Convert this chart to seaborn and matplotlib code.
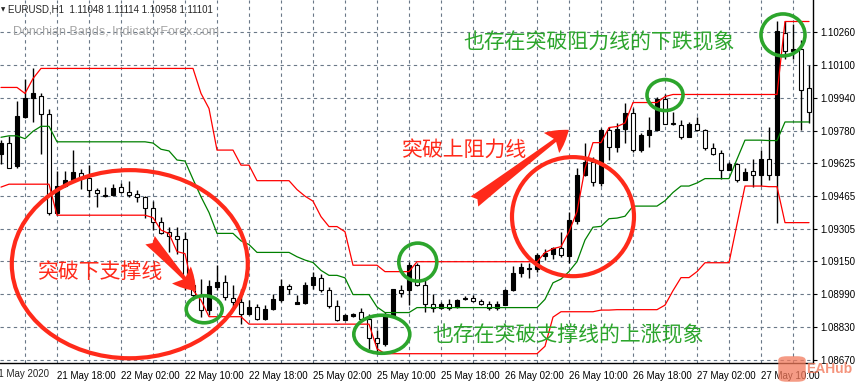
import numpy as np
import pandas as pd
import seaborn as sns
import matplotlib.pyplot as plt
from matplotlib.patches import Ellipse, FancyArrowPatch, FancyBboxPatch

sns.set_style('white')
plt.rcParams['font.family'] = ['Liberation Sans', 'DejaVu Sans']

# H1 bars, bar 0 = 21 May 18:00
bars = list(range(-7, 95))

open_ = [1.09670, 1.09719, 1.09610, 1.09849, 1.09941, 1.09951, 1.09861,
         1.09385, 1.09515, 1.09544, 1.09578, 1.09554, 1.09493, 1.09472, 1.09472, 1.09508, 1.09486,
         1.09474, 1.09462, 1.09409, 1.09341, 1.09290, 1.09271, 1.09259, 1.09034, 1.08985, 1.08915,
         1.09026, 1.09048, 1.08973, 1.08954, 1.08896, 1.08927, 1.08871, 1.08920, 1.08963, 1.09031,
         1.08944, 1.08949, 1.09036, 1.09070, 1.09012, 1.08934, 1.08867, 1.08886, 1.08903, 1.08871,
         1.08779, 1.08748, 1.08884, 1.09012, 1.09009, 1.09133, 1.09036, 1.08944, 1.08925, 1.08944,
         1.08929, 1.08968, 1.08973, 1.08959, 1.08944, 1.08922, 1.08939, 1.09009, 1.09094, 1.09113,
         1.09113, 1.09176, 1.09186, 1.09215, 1.09176, 1.09343, 1.09568, 1.09631, 1.09530, 1.09786,
         1.09701, 1.09791, 1.09868, 1.09687, 1.09762, 1.09784, 1.09936, 1.09820, 1.09810, 1.09752,
         1.09815, 1.09784, 1.09699, 1.09675, 1.09593, 1.09619, 1.09544, 1.09585, 1.09566, 1.09646,
         1.09566, 1.10251, 1.10164, 1.10178, 1.09985]
high = [1.09735, 1.09755, 1.09924, 1.10033, 1.10082, 1.09961, 1.09888,
        1.09588, 1.09588, 1.09687, 1.09595, 1.09614, 1.09503, 1.09510, 1.09525, 1.09530, 1.09539,
        1.09496, 1.09464, 1.09440, 1.09365, 1.09317, 1.09317, 1.09292, 1.09065, 1.09065, 1.09058,
        1.09130, 1.09082, 1.09036, 1.09017, 1.08961, 1.08944, 1.08937, 1.08992, 1.09065, 1.09041,
        1.08985, 1.09051, 1.09099, 1.09089, 1.09026, 1.08961, 1.08896, 1.08901, 1.08925, 1.08896,
        1.08816, 1.08905, 1.09017, 1.09034, 1.09147, 1.09142, 1.09058, 1.08992, 1.08954, 1.08968,
        1.08968, 1.08980, 1.08985, 1.08966, 1.08959, 1.08956, 1.09017, 1.09126, 1.09142, 1.09142,
        1.09191, 1.09210, 1.09220, 1.09292, 1.09389, 1.09598, 1.09723, 1.09655, 1.09796, 1.09801,
        1.09818, 1.09917, 1.09890, 1.09769, 1.09849, 1.09946, 1.09956, 1.09873, 1.09832, 1.09822,
        1.09849, 1.09791, 1.09719, 1.09687, 1.09629, 1.09626, 1.09598, 1.09646, 1.09687, 1.09801,
        1.10309, 1.10309, 1.10297, 1.10219, 1.10098]
low = [1.09622, 1.09598, 1.09602, 1.09840, 1.09825, 1.09670, 1.09372,
       1.09372, 1.09510, 1.09542, 1.09501, 1.09462, 1.09414, 1.09462, 1.09467, 1.09481, 1.09462,
       1.09438, 1.09360, 1.09300, 1.09283, 1.09196, 1.09186, 1.09009, 1.08961, 1.08881, 1.08888,
       1.09009, 1.08961, 1.08913, 1.08845, 1.08888, 1.08864, 1.08864, 1.08913, 1.08954, 1.08992,
       1.08942, 1.08944, 1.09017, 1.09002, 1.08925, 1.08862, 1.08864, 1.08881, 1.08864, 1.08726,
       1.08702, 1.08738, 1.08879, 1.08978, 1.08937, 1.09029, 1.08905, 1.08905, 1.08920, 1.08913,
       1.08925, 1.08961, 1.08954, 1.08937, 1.08915, 1.08915, 1.08937, 1.09007, 1.09075, 1.09070,
       1.09099, 1.09155, 1.09162, 1.09171, 1.09142, 1.09329, 1.09564, 1.09513, 1.09513, 1.09639,
       1.09680, 1.09719, 1.09680, 1.09680, 1.09704, 1.09779, 1.09813, 1.09808, 1.09743, 1.09750,
       1.09781, 1.09687, 1.09663, 1.09549, 1.09590, 1.09535, 1.09542, 1.09510, 1.09515, 1.09542,
       1.09336, 1.10130, 1.10130, 1.09784, 1.09818]
close = [1.09719, 1.09602, 1.09852, 1.09941, 1.09961, 1.09861, 1.09385,
         1.09515, 1.09544, 1.09580, 1.09554, 1.09493, 1.09481, 1.09467, 1.09503, 1.09486, 1.09472,
         1.09462, 1.09409, 1.09341, 1.09288, 1.09271, 1.09259, 1.09034, 1.08985, 1.08915, 1.09029,
         1.09048, 1.08978, 1.08954, 1.08896, 1.08927, 1.08871, 1.08920, 1.08968, 1.09031, 1.09017,
         1.08954, 1.09034, 1.09075, 1.09012, 1.08934, 1.08867, 1.08888, 1.08896, 1.08871, 1.08779,
         1.08753, 1.08886, 1.09014, 1.08997, 1.09133, 1.09036, 1.08944, 1.08925, 1.08944, 1.08925,
         1.08963, 1.08973, 1.08956, 1.08944, 1.08922, 1.08944, 1.09009, 1.09094, 1.09123, 1.09118,
         1.09179, 1.09191, 1.09215, 1.09181, 1.09351, 1.09568, 1.09631, 1.09534, 1.09784, 1.09704,
         1.09791, 1.09868, 1.09689, 1.09762, 1.09786, 1.09936, 1.09815, 1.09815, 1.09752, 1.09815,
         1.09784, 1.09699, 1.09668, 1.09593, 1.09619, 1.09544, 1.09583, 1.09568, 1.09646, 1.09566,
         1.10261, 1.10164, 1.10178, 1.09980, 1.09873]

# Donchian bands as drawn on the chart
upper = [1.09990, 1.09990, 1.09990, 1.09961, 1.10033, 1.10082, 1.10082,
         1.10082, 1.10082, 1.10082, 1.10082, 1.10082, 1.10082, 1.10082, 1.10082, 1.10082, 1.10082,
         1.10082, 1.10082, 1.10082, 1.10082, 1.10082, 1.10082, 1.10082, 1.10082, 1.09961, 1.09888,
         1.09687, 1.09687, 1.09687, 1.09614, 1.09614, 1.09539, 1.09539, 1.09539, 1.09539, 1.09539,
         1.09496, 1.09464, 1.09440, 1.09365, 1.09317, 1.09317, 1.09292, 1.09130, 1.09130, 1.09130,
         1.09130, 1.09099, 1.09099, 1.09099, 1.09099, 1.09147, 1.09147, 1.09147, 1.09147, 1.09147,
         1.09147, 1.09147, 1.09147, 1.09147, 1.09147, 1.09147, 1.09147, 1.09147, 1.09147, 1.09147,
         1.09147, 1.09191, 1.09210, 1.09220, 1.09292, 1.09389, 1.09598, 1.09723, 1.09723, 1.09796,
         1.09801, 1.09818, 1.09917, 1.09917, 1.09917, 1.09917, 1.09946, 1.09956, 1.09956, 1.09956,
         1.09956, 1.09956, 1.09956, 1.09956, 1.09956, 1.09956, 1.09956, 1.09956, 1.09956, 1.09956,
         1.09956, 1.10309, 1.10309, 1.10309, 1.10309]
lower = [1.09508, 1.09522, 1.09522, 1.09522, 1.09522, 1.09522, 1.09522,
         1.09372, 1.09372, 1.09372, 1.09372, 1.09372, 1.09372, 1.09372, 1.09372, 1.09372, 1.09372,
         1.09372, 1.09372, 1.09360, 1.09300, 1.09283, 1.09196, 1.09186, 1.09009, 1.08961, 1.08881,
         1.08881, 1.08881, 1.08881, 1.08881, 1.08845, 1.08845, 1.08845, 1.08845, 1.08845, 1.08845,
         1.08845, 1.08845, 1.08845, 1.08845, 1.08845, 1.08845, 1.08845, 1.08845, 1.08845, 1.08845,
         1.08726, 1.08702, 1.08702, 1.08702, 1.08702, 1.08702, 1.08702, 1.08702, 1.08702, 1.08702,
         1.08702, 1.08702, 1.08702, 1.08702, 1.08702, 1.08702, 1.08702, 1.08702, 1.08702, 1.08702,
         1.08702, 1.08738, 1.08879, 1.08905, 1.08905, 1.08905, 1.08905, 1.08905, 1.08913, 1.08913,
         1.08915, 1.08915, 1.08915, 1.08915, 1.08915, 1.08915, 1.08937, 1.09007, 1.09070, 1.09070,
         1.09099, 1.09142, 1.09142, 1.09142, 1.09142, 1.09329, 1.09513, 1.09513, 1.09513, 1.09510,
         1.09510, 1.09336, 1.09336, 1.09336, 1.09336]
middle = [1.09749, 1.09756, 1.09756, 1.09742, 1.09778, 1.09802, 1.09802,
          1.09727, 1.09727, 1.09727, 1.09727, 1.09727, 1.09727, 1.09727, 1.09727, 1.09727, 1.09727,
          1.09727, 1.09727, 1.09721, 1.09691, 1.09683, 1.09639, 1.09634, 1.09546, 1.09461, 1.09385,
          1.09284, 1.09284, 1.09284, 1.09248, 1.09230, 1.09192, 1.09192, 1.09192, 1.09192, 1.09192,
          1.09171, 1.09155, 1.09143, 1.09105, 1.09081, 1.09081, 1.09069, 1.08988, 1.08988, 1.08988,
          1.08928, 1.08901, 1.08901, 1.08901, 1.08901, 1.08925, 1.08925, 1.08925, 1.08925, 1.08925,
          1.08925, 1.08925, 1.08925, 1.08925, 1.08925, 1.08925, 1.08925, 1.08925, 1.08925, 1.08925,
          1.08925, 1.08965, 1.09045, 1.09063, 1.09099, 1.09147, 1.09252, 1.09314, 1.09318, 1.09355,
          1.09358, 1.09367, 1.09416, 1.09416, 1.09416, 1.09416, 1.09442, 1.09482, 1.09513, 1.09513,
          1.09528, 1.09549, 1.09549, 1.09549, 1.09549, 1.09643, 1.09735, 1.09735, 1.09735, 1.09733,
          1.09733, 1.09823, 1.09823, 1.09823, 1.09823]

tick_bars = [0, 8, 16, 24, 32, 40, 48, 56, 64, 72, 80, 88]
tick_labels = ['21 May 18:00', '22 May 02:00', '22 May 10:00', '22 May 18:00', '25 May 02:00',
               '25 May 10:00', '25 May 18:00', '26 May 02:00', '26 May 10:00', '26 May 18:00',
               '27 May 02:00', '27 May 10:00']
price_ticks = [1.08670, 1.08830, 1.08990, 1.09150, 1.09305, 1.09465, 1.09625,
               1.09780, 1.09940, 1.10100, 1.10260]

df = pd.DataFrame({'bar': bars, 'open': open_, 'high': high, 'low': low, 'close': close,
                   'upper': upper, 'lower': lower, 'middle': middle})

W, H = 858, 383
fig = plt.figure(figsize=(W / 100, H / 100), dpi=100)
ax = fig.add_axes([0, 20 / H, 813 / W, 363 / H])

# candles: black = up bar, white = down bar
bull = df['close'] >= df['open']
ax.vlines(df['bar'], df['low'], df['high'], color='black', lw=1, zorder=3)
body_lo = np.minimum(df['open'], df['close'])
body_h = np.maximum((df['close'] - df['open']).abs(), 0.00003)
ax.bar(df['bar'], body_h, bottom=body_lo, width=0.62,
       color=np.where(bull, 'black', 'white'), edgecolor='black', lw=0.8, zorder=4)

for col, c in [('upper', '#ff0000'), ('lower', '#ff0000'), ('middle', '#008000')]:
    sns.lineplot(data=df, x='bar', y=col, color=c, lw=0.9, ax=ax, zorder=5,
                 estimator=None, legend=False)

ax.set_xlim(-7.125, 94.5)
ax.set_ylim(1.08657, 1.10413)
ax.set_xlabel('')
ax.set_ylabel('')

ax.set_xticks(tick_bars)
ax.set_xticklabels(tick_labels, ha='left')
ax.set_xticks(np.arange(-4, 95, 4), minor=True)
ax.set_yticks(price_ticks)
ax.set_yticklabels([f'{p:.5f}' for p in price_ticks])
ax.yaxis.tick_right()

grid_kw = dict(color='#6a7888', lw=0.8, ls=(0, (3, 3)))
ax.grid(axis='x', which='both', **grid_kw)
ax.grid(axis='y', which='major', **grid_kw)
ax.tick_params(axis='x', which='major', length=4, width=0.8, pad=1.5, labelsize=7, colors='black')
ax.tick_params(axis='x', which='minor', length=0)
ax.tick_params(axis='y', length=3, width=0.8, pad=2, labelsize=7, colors='black')
for s in ['left', 'top']:
    ax.spines[s].set_visible(False)
for s in ['bottom', 'right']:
    ax.spines[s].set_color('black')
    ax.spines[s].set_linewidth(1)

ax.text(-8, -6 / 363, '21 May 2020', transform=ax.get_xaxis_transform(),
        ha='left', va='top', fontsize=7, clip_on=False)

# header + indicator caption
ax.text(1 / W, 1 - 10 / H, '\u25bc', transform=fig.transFigure, fontsize=4,
        va='center', family='DejaVu Sans', zorder=6)
ax.text(8 / W, 1 - 10 / H, 'EURUSD,H1  1.11048 1.11114 1.10958 1.11101',
        transform=fig.transFigure, fontsize=7, va='center', zorder=6)
ax.text(13 / W, 1 - 32 / H, 'Donchian Bands, IndicatorForex.com',
        transform=fig.transFigure, fontsize=9, color='#a5a5a5', va='center', zorder=1)

# annotations
red = '#ff2a1a'
green = '#2ca52c'
cjk = ['Noto Sans CJK SC', 'DejaVu Sans']
for (cx, cy, w, h, c, lw) in [(9.1, 1.09135, 29.5, 0.0091, red, 3.0),
                              (64.5, 1.09365, 15.25, 0.00576, red, 3.0),
                              (18.4, 1.08917, 4.5, 0.00131, green, 2.6),
                              (45.1, 1.09145, 4.75, 0.00184, green, 2.6),
                              (40.6, 1.08796, 7.0, 0.00184, green, 2.6),
                              (76.0, 1.09953, 4.5, 0.0015, green, 2.6),
                              (90.75, 1.10244, 5.5, 0.00203, green, 2.6)]:
    ax.add_patch(Ellipse((cx, cy), w, h, fill=False, ec=c, lw=lw, zorder=10))

for a, b in [((11.4, 1.09261), (17.6, 1.08995)), ((51.9, 1.09430), (64.25, 1.09793))]:
    ax.add_patch(FancyArrowPatch(a, b, arrowstyle='fancy,head_length=0.6,head_width=0.7,tail_width=0.35',
                                 mutation_scale=26, color=red, lw=0, zorder=10))

ax.text(-2.4, 1.09097, '突破下支撑线', color=red, fontsize=15, family=cjk, va='center', zorder=11)
ax.text(43.1, 1.09687, '突破上阻力线', color=red, fontsize=15, family=cjk, va='center', zorder=11)
ax.text(50.75, 1.10210, '也存在突破阻力线的下跌现象', color=green, fontsize=15, family=cjk,
        va='center', zorder=11)
ax.text(46.9, 1.08792, '也存在突破支撑线的上涨现象', color=green, fontsize=15, family=cjk,
        va='center', zorder=11)

# site watermark
fig.add_artist(FancyBboxPatch((780 / W, 2 / H), 24 / W, 24 / H,
                              boxstyle='round,pad=0.002,rounding_size=0.01',
                              transform=fig.transFigure, fc='#f27a5c', ec='none', alpha=0.75))
fig.text(806 / W, 1 - 369 / H, 'EAHub', fontsize=10, fontweight='bold', color='#f27a5c',
         alpha=0.8, va='center')

fig.savefig('out.png', dpi=100)
